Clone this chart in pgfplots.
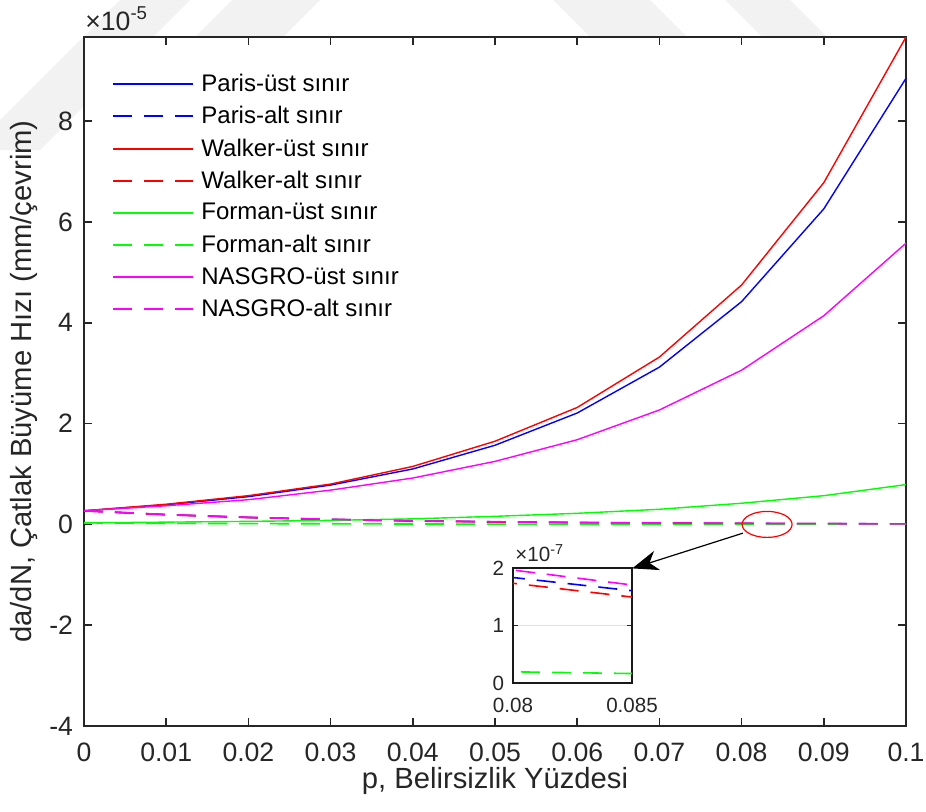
\documentclass[border=0pt]{standalone}
\usepackage{fontspec}
\setmainfont{Liberation Sans}
\usepackage{pgfplots}
\pgfplotsset{compat=1.18}
\usepackage{pgfplotstable}
\usetikzlibrary{arrows.meta,calc}

\definecolor{axgray}{RGB}{38,38,38}
\definecolor{cblue}{RGB}{0,0,255}
\definecolor{cred}{RGB}{255,0,0}
\definecolor{cgreen}{RGB}{0,255,0}
\definecolor{cmag}{RGB}{255,0,255}

% da/dN in units of 1e-5 mm/cycle
\pgfplotstableread{
p     pu    pl      wu    wl      fu     fl      nu    nl
0     0.27  0.27    0.27  0.27    0.03   0.03    0.27  0.27
0.01  0.39  0.193   0.40  0.192   0.045  0.0215  0.37  0.195
0.02  0.55  0.138   0.57  0.136   0.06   0.0154  0.49  0.140
0.03  0.78  0.0986  0.80  0.0966  0.08   0.011   0.68  0.101
0.04  1.10  0.0705  1.15  0.0686  0.11   0.0079  0.92  0.073
0.05  1.57  0.0504  1.65  0.0487  0.16   0.0057  1.25  0.0527
0.06  2.21  0.036   2.32  0.0346  0.22   0.0041  1.68  0.038
0.07  3.12  0.0258  3.32  0.0245  0.30   0.0029  2.27  0.0274
0.08  4.42  0.0184  4.75  0.0174  0.42   0.0020  3.06  0.0197
0.09  6.26  0.0138  6.78  0.0126  0.57   0.0014  4.14  0.0145
0.1   8.85  0.0100  9.67  0.0092  0.79   0.0010  5.58  0.0106
}\rates

\tikzset{
  up/.style={line width=0.7pt},
  lo/.style={line width=0.8pt, dash pattern=on 9.5pt off 6pt},
}

\begin{document}
\begin{tikzpicture}
% faint watermark bands
\fill[black!5] (-57pt,288pt) -- (-22pt,288pt) -- (53pt,363pt) -- (18pt,363pt) -- cycle;
\fill[black!5] (74pt,363pt) -- (118pt,363pt) -- (43pt,288pt) -- (-1pt,288pt) -- cycle;
\fill[black!5] (234.5pt,363pt) -- (283pt,363pt) -- (358pt,288pt) -- (309.5pt,288pt) -- cycle;
\fill[black!5] (320.5pt,363pt) -- (353pt,363pt) -- (398pt,318pt) -- (365.5pt,318pt) -- cycle;

\begin{axis}[name=main, at={(0,0)}, anchor=south west,
  scale only axis, width=411pt, height=344.5pt,
  xmin=0, xmax=0.1, ymin=-4, ymax=9.67,
  scaled ticks=false,
  xtick={0,0.01,0.02,0.03,0.04,0.05,0.06,0.07,0.08,0.09,0.1},
  xticklabels={0,0.01,0.02,0.03,0.04,0.05,0.06,0.07,0.08,0.09,0.1},
  ytick={-4,-2,0,2,4,6,8}, yticklabels={-4,-2,0,2,4,6,8},
  tick align=inside, major tick length=4pt,
  tick style={axgray, line width=0.8pt},
  axis line style={axgray, line width=0.8pt},
  axis background/.style={fill=white},
  ticklabel style={font=\fontsize{13.3}{15}\selectfont, text=axgray},
  xticklabel style={yshift=-5pt},
  yticklabel style={xshift=-2pt},
  xlabel={p, Belirsizlik Yüzdesi},
  ylabel={da/dN, Çatlak Büyüme Hızı (mm/çevrim)},
  label style={font=\fontsize{14.6}{17}\selectfont, text=axgray},
  xlabel style={at={(axis description cs:0.5,-0.0914)}, anchor=base},
  ylabel style={at={(axis description cs:-0.073,0.5)}, anchor=center, rotate=0},
  legend cell align=left,
  legend style={draw=none, fill=none, at={(0,1)}, anchor=north west,
    xshift=14pt, yshift=-18.25pt, font=\fontsize{12}{14}\selectfont,
    row sep=6pt, inner sep=0pt,
    nodes={inner sep=0pt, outer sep=0pt},
    /tikz/every odd column/.append style={column sep=3.5pt}},
  legend image code/.code={\draw[#1, line width=1pt] (0pt,0pt) -- (40pt,0pt);},
  clip=false,
]
\addplot[cblue, up] table[x=p, y=pu] {\rates};
\addlegendentry{Paris-üst sınır}
\addplot[cblue, lo] table[x=p, y=pl] {\rates};
\addlegendentry{Paris-alt sınır}
\addplot[cred, up] table[x=p, y=wu] {\rates};
\addlegendentry{Walker-üst sınır}
\addplot[cred, lo] table[x=p, y=wl] {\rates};
\addlegendentry{Walker-alt sınır}
\addplot[cgreen, up] table[x=p, y=fu] {\rates};
\addlegendentry{Forman-üst sınır}
\addplot[cgreen, lo] table[x=p, y=fl] {\rates};
\addlegendentry{Forman-alt sınır}
\addplot[cmag, up] table[x=p, y=nu] {\rates};
\addlegendentry{NASGRO-üst sınır}
\addplot[cmag, lo] table[x=p, y=nl] {\rates};
\addlegendentry{NASGRO-alt sınır}

\draw[cred, line width=0.6pt] (axis cs:0.0831,0) ellipse [x radius=12.5pt, y radius=6.5pt];
\draw[black, line width=0.6pt, -{Stealth[length=13pt, width=10pt, inset=4pt]}]
  (axis cs:0.08017,-0.173) -- (axis cs:0.0667,-0.873);
\end{axis}
\node[anchor=base west, inner sep=0pt, font=\fontsize{13.3}{15}\selectfont, text=axgray]
  at ($(main.north west)+(0.5pt,3.3pt)$) {×10\textsuperscript{-5}};

\begin{axis}[name=inset, at={($(main.south west)+(214.5pt,21.35pt)$)}, anchor=south west,
  scale only axis, width=59.5pt, height=57.5pt,
  xmin=0.08, xmax=0.085, ymin=0, ymax=0.02,
  scaled ticks=false,
  xtick={0.08,0.085}, xticklabels={0.08,0.085},
  ytick={0,0.01,0.02}, yticklabels={0,1,2},
  ymajorgrids, grid style={black!12, line width=0.6pt},
  tick align=inside, major tick length=2.5pt,
  tick style={axgray, line width=0.6pt},
  axis line style={black!90, line width=0.9pt},
  axis background/.style={fill=white},
  ticklabel style={font=\fontsize{10.3}{12}\selectfont, text=axgray},
  xticklabel style={yshift=-4pt},
  yticklabel style={xshift=-1pt},
]
\addplot[cblue, lo] table[x=p, y=pl] {\rates};
\addplot[cred, lo] table[x=p, y=wl] {\rates};
\addplot[cgreen, lo] table[x=p, y=fl] {\rates};
\addplot[cmag, lo] table[x=p, y=nl] {\rates};
\end{axis}
\node[anchor=base west, inner sep=0pt, font=\fontsize{10.3}{12}\selectfont, text=axgray]
  at ($(inset.north west)+(1pt,3.3pt)$) {×10\textsuperscript{-7}};

\pgfresetboundingbox
\path ($(main.south west)+(-42pt,-42.5pt)$) rectangle ($(main.south west)+(421pt,363pt)$);
\end{tikzpicture}
\end{document}
